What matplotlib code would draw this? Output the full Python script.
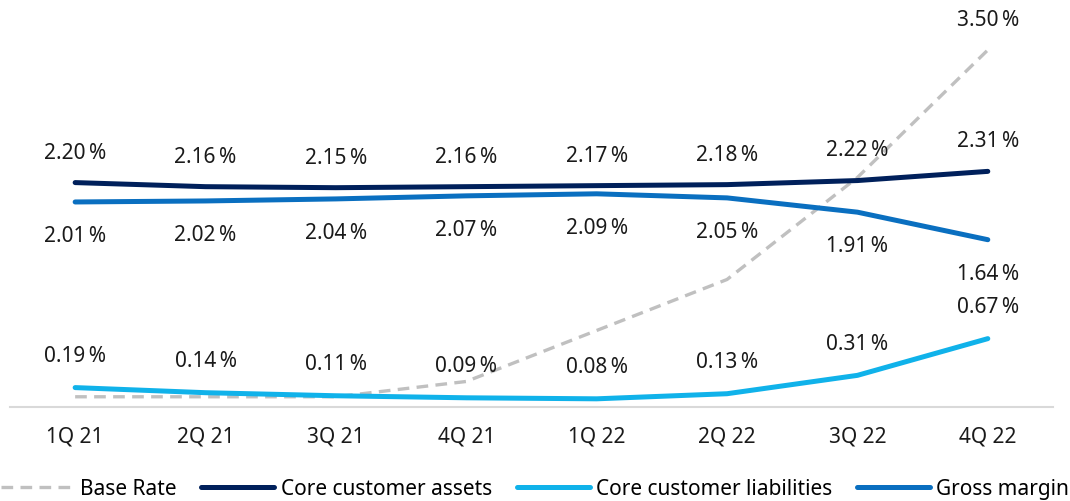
import matplotlib
matplotlib.use("Agg")
import matplotlib.pyplot as plt
import numpy as np

plt.rcParams['font.family'] = ['Noto Sans', 'DejaVu Sans']

# Quarterly rates in percent
quarters = ['1Q 21', '2Q 21', '3Q 21', '4Q 21', '1Q 22', '2Q 22', '3Q 22', '4Q 22']
base_rate = [0.10, 0.10, 0.10, 0.25, 0.75, 1.25, 2.25, 3.50]
core_assets = [2.20, 2.16, 2.15, 2.16, 2.17, 2.18, 2.22, 2.31]
core_liabilities = [0.19, 0.14, 0.11, 0.09, 0.08, 0.13, 0.31, 0.67]
gross_margin = [2.01, 2.02, 2.04, 2.07, 2.09, 2.05, 1.91, 1.64]

c_base = '#c0c0c0'
c_assets = '#00205b'
c_liab = '#10b2ea'
c_margin = '#0a6fc0'

fig = plt.figure(figsize=(10.7, 5.02), dpi=100)
ax = fig.add_axes([0.0093, 0.1873, 0.9748, 0.8127])
x = np.arange(len(quarters))

ax.plot(x, base_rate, color=c_base, lw=2.4, dashes=(3.5, 2.2), label='Base Rate', dash_capstyle='butt')
ax.plot(x, core_assets, color=c_assets, lw=3.6, label='Core customer assets', solid_capstyle='round')
ax.plot(x, core_liabilities, color=c_liab, lw=3.6, label='Core customer liabilities', solid_capstyle='round')
ax.plot(x, gross_margin, color=c_margin, lw=3.6, label='Gross margin', solid_capstyle='round')

fs = 15
txt = '#1a1a1a'

def pct(v):
    return f'{v:.2f}\u2009%'

for i in range(len(x)):
    ax.annotate(pct(core_assets[i]), (x[i], core_assets[i]), xytext=(0, 22), textcoords='offset points',
                ha='center', va='center', fontsize=fs, color=txt)
    ax.annotate(pct(gross_margin[i]), (x[i], gross_margin[i]), xytext=(0, -24), textcoords='offset points',
                ha='center', va='center', fontsize=fs, color=txt)
    ax.annotate(pct(core_liabilities[i]), (x[i], core_liabilities[i]), xytext=(0, 23), textcoords='offset points',
                ha='center', va='center', fontsize=fs, color=txt)
ax.annotate(pct(base_rate[-1]), (x[-1], base_rate[-1]), xytext=(0, 22), textcoords='offset points',
            ha='center', va='center', fontsize=fs, color=txt)

ax.set_xlim(-0.5, 7.5)
ax.set_ylim(0, 4.0)
ax.set_xticks(x)
ax.set_xticklabels(quarters, fontsize=fs, color=txt)
ax.tick_params(axis='x', length=0, pad=13)
ax.set_yticks([])
for s in ['left', 'right', 'top']:
    ax.spines[s].set_visible(False)
ax.spines['bottom'].set_color('#d9d9d9')
ax.spines['bottom'].set_linewidth(1.5)

fig.legend(loc='center', bbox_to_anchor=(0.5, 0.024), ncol=4, frameon=False, fontsize=fs,
           handlelength=3.5, handletextpad=0.3, columnspacing=1.2)

fig.savefig('out.png', dpi=100)
